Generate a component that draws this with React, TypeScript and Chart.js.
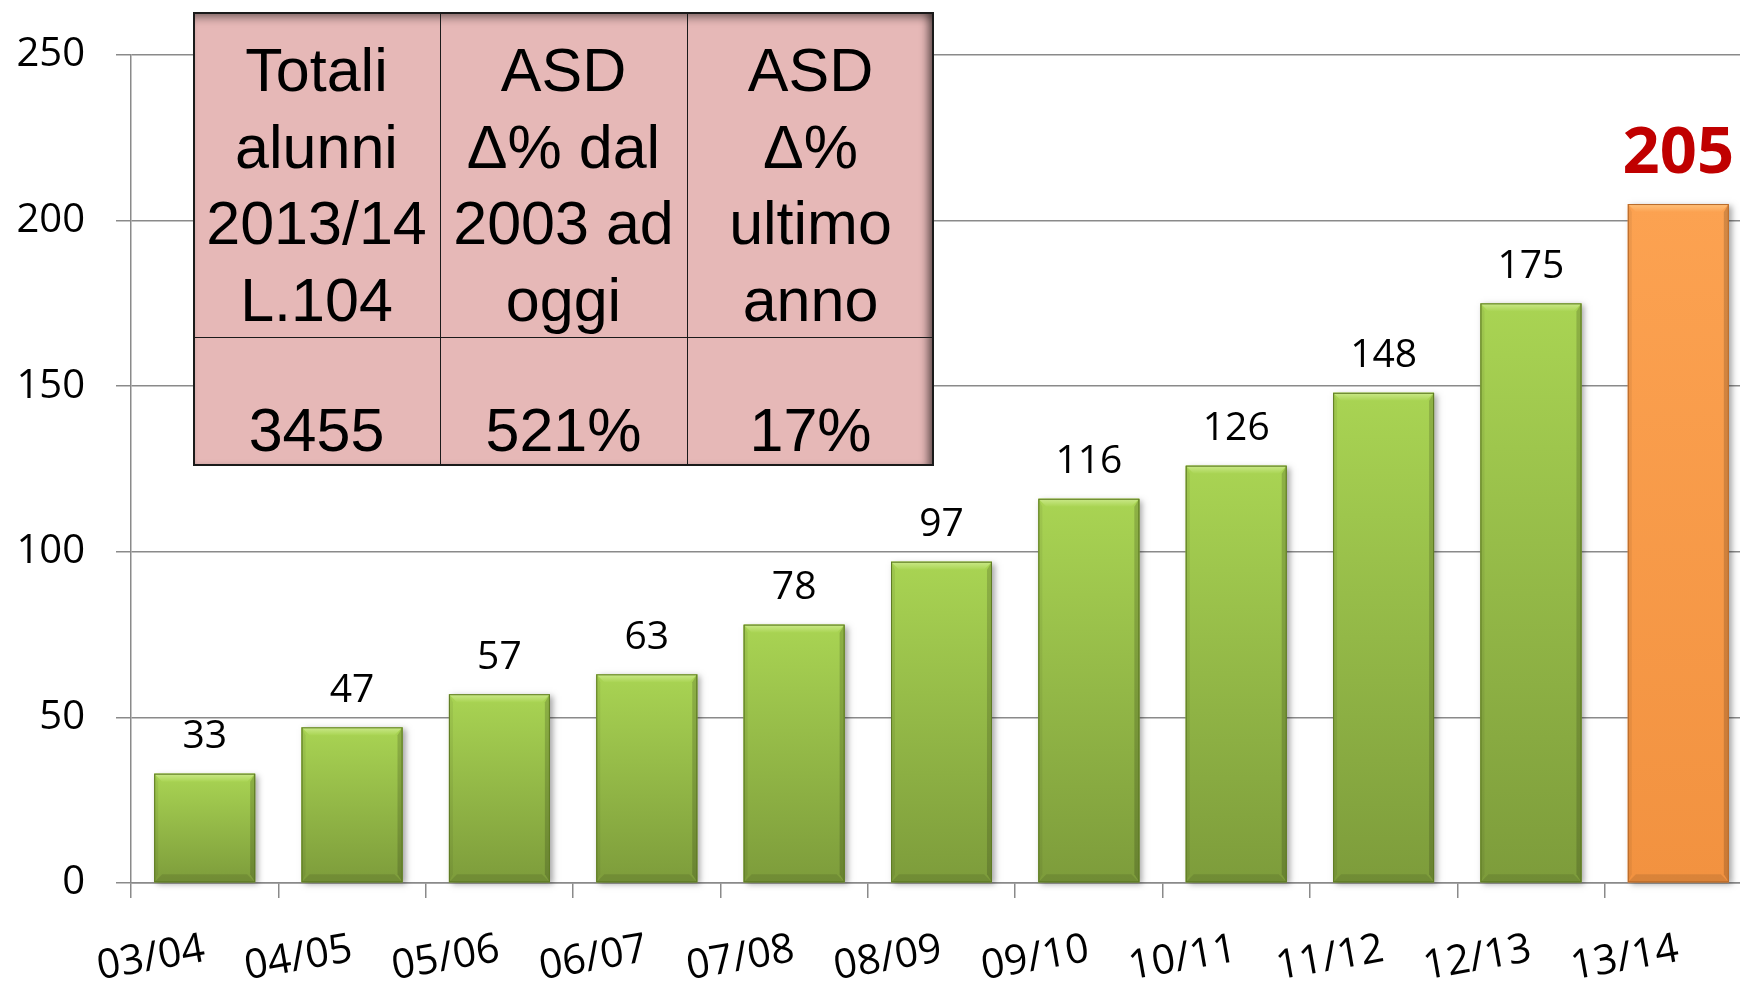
import React, { useEffect, useRef } from "react";
import { Chart, registerables } from "chart.js";

Chart.register(...registerables);

// ---- data ----
const categories = ["03/04", "04/05", "05/06", "06/07", "07/08", "08/09", "09/10", "10/11", "11/12", "12/13", "13/14"];
const alunniASD = [33, 47, 57, 63, 78, 97, 116, 126, 148, 175, 205];
const highlightIndex = 10;
const yTicks = [0, 50, 100, 150, 200, 250];
const tableHeaders = [
  ["Totali", "alunni", "2013/14", "L.104"],
  ["ASD", "Δ% dal", "2003 ad", "oggi"],
  ["ASD", "Δ%", "ultimo", "anno"],
];
const tableValues = ["3455", "521%", "17%"];

const GREEN = { top: "#a9d453", bottom: "#7d9c3b", bevelTop: "#cbe98a", border: "#5e7a24" };
const ORANGE = { top: "#fca251", bottom: "#f29240", bevelTop: "#ffc27c", border: "#b86a2a" };

const barStyle = {
  id: "barStyle",
  afterDatasetsDraw(chart: any) {
    const ctx = chart.ctx;
    const meta = chart.getDatasetMeta(0);
    meta.data.forEach((el: any, i: number) => {
      const { x, y, base, width } = el.getProps(["x", "y", "base", "width"], true);
      const l = x - width / 2;
      const r = x + width / 2;
      const t = y;
      const b = base;
      const pal = i === highlightIndex ? ORANGE : GREEN;
      // shadow
      ctx.save();
      ctx.shadowColor = "rgba(0,0,0,0.35)";
      ctx.shadowBlur = 6;
      ctx.shadowOffsetX = 3;
      ctx.shadowOffsetY = 2;
      ctx.fillStyle = pal.bottom;
      ctx.fillRect(l, t, r - l, b - t);
      ctx.restore();
      // face
      const g = ctx.createLinearGradient(0, t, 0, b);
      g.addColorStop(0, pal.top);
      g.addColorStop(1, pal.bottom);
      ctx.fillStyle = g;
      ctx.fillRect(l, t, r - l, b - t);
      const bv = 8;
      // top bevel
      const gt = ctx.createLinearGradient(0, t, 0, t + bv);
      gt.addColorStop(0, pal.bevelTop);
      gt.addColorStop(1, pal.top);
      ctx.fillStyle = gt;
      ctx.beginPath();
      ctx.moveTo(l, t);
      ctx.lineTo(r, t);
      ctx.lineTo(r - bv, t + bv);
      ctx.lineTo(l + bv, t + bv);
      ctx.closePath();
      ctx.fill();
      // left bevel
      ctx.fillStyle = "rgba(0,0,0,0.06)";
      ctx.beginPath();
      ctx.moveTo(l, t);
      ctx.lineTo(l + 4, t + bv);
      ctx.lineTo(l + 4, b - bv);
      ctx.lineTo(l, b);
      ctx.closePath();
      ctx.fill();
      // right bevel
      ctx.fillStyle = "rgba(0,0,0,0.16)";
      ctx.beginPath();
      ctx.moveTo(r, t);
      ctx.lineTo(r - 5, t + bv);
      ctx.lineTo(r - 5, b - bv);
      ctx.lineTo(r, b);
      ctx.closePath();
      ctx.fill();
      // bottom bevel
      ctx.fillStyle = "rgba(0,0,0,0.1)";
      ctx.beginPath();
      ctx.moveTo(l, b);
      ctx.lineTo(r, b);
      ctx.lineTo(r - bv, b - bv);
      ctx.lineTo(l + bv, b - bv);
      ctx.closePath();
      ctx.fill();
      // border
      ctx.strokeStyle = pal.border;
      ctx.lineWidth = 1;
      ctx.strokeRect(l + 0.5, t + 0.5, r - l - 1, b - t - 1);
    });
  },
};

const valueLabels = {
  id: "valueLabels",
  afterDatasetsDraw(chart: any) {
    const ctx = chart.ctx;
    const meta = chart.getDatasetMeta(0);
    const data = chart.data.datasets[0].data;
    ctx.save();
    ctx.textAlign = "center";
    ctx.textBaseline = "alphabetic";
    meta.data.forEach((el: any, i: number) => {
      const hi = i === highlightIndex;
      ctx.font = hi ? "bold 65px 'Open Sans'" : "39px 'Open Sans'";
      ctx.fillStyle = hi ? "#c00000" : "#000000";
      ctx.fillText(String(data[i]), el.x, el.y - (hi ? 31 : 25.5));
    });
    ctx.restore();
  },
};

function DataTable() {
  const left = 193;
  const top = 12;
  const w = 741;
  const h = 454;
  const headH = 325;
  const colW = w / 3;
  const font = "'Liberation Sans', Arial, sans-serif";
  return (
    <div
      style={{
        position: "absolute",
        left,
        top,
        width: w,
        height: h,
        boxSizing: "border-box",
        background: "#e6b8b7",
        border: "2px solid #1a1a1a",
        boxShadow: "inset -9px 0 8px -5px rgba(0,0,0,0.55), inset 0 9px 8px -5px rgba(0,0,0,0.4)",
        fontFamily: font,
        color: "#000",
      }}
    >
      {[1, 2].map((k) => (
        <div key={"v" + k} style={{ position: "absolute", left: k * colW - 2.5, top: -2, width: 1.5, height: h, background: "#1a1a1a" }} />
      ))}
      <div style={{ position: "absolute", left: -2, top: headH - 2.5, width: w, height: 1.5, background: "#1a1a1a" }} />
      {tableHeaders.map((lines, c) => (
        <div
          key={"h" + c}
          style={{
            position: "absolute",
            left: c * colW - 2,
            top: 18,
            width: colW,
            textAlign: "center",
            fontSize: 61,
            lineHeight: "76.7px",
            whiteSpace: "nowrap",
          }}
        >
          {lines.map((ln, j) => (
            <div key={j}>{ln}</div>
          ))}
        </div>
      ))}
      {tableValues.map((v, c) => (
        <div
          key={"val" + c}
          style={{
            position: "absolute",
            left: c * colW - 2,
            top: headH + 53,
            width: colW,
            textAlign: "center",
            fontSize: 61,
            lineHeight: "76.7px",
            whiteSpace: "nowrap",
          }}
        >
          {v}
        </div>
      ))}
    </div>
  );
}

export default function App() {
  const ref = useRef<HTMLCanvasElement | null>(null);
  useEffect(() => {
    if (!ref.current) return;
    const chart = new Chart(ref.current, {
      type: "bar",
      data: {
        labels: categories,
        datasets: [
          {
            data: alunniASD,
            backgroundColor: alunniASD.map((_, i) => (i === highlightIndex ? ORANGE.top : GREEN.top)),
            borderWidth: 0,
            barPercentage: 0.685,
            categoryPercentage: 1,
          },
        ],
      },
      options: {
        responsive: false,
        animation: false,
        layout: { padding: { top: 54, left: 0, right: 0, bottom: 0 } },
        plugins: { legend: { display: false }, tooltip: { enabled: false } },
        scales: {
          y: {
            min: 0,
            max: 250,
            afterBuildTicks: (s: any) => {
              s.ticks = yTicks.map((v) => ({ value: v }));
            },
            afterFit: (s: any) => {
              s.width = 131;
            },
            ticks: { font: { family: "'Open Sans'", size: 40 }, color: "#000", padding: 31 },
            grid: { color: "#8a8a8a", lineWidth: 1.5, tickLength: 15, drawTicks: true },
            border: { color: "#8a8a8a", width: 1.5 },
          },
          x: {
            afterFit: (s: any) => {
              s.height = 99;
            },
            ticks: {
              font: { family: "'Open Sans'", size: 41 },
              color: "#000",
              minRotation: 10,
              maxRotation: 10,
              autoSkip: false,
              padding: 27,
            },
            grid: { drawOnChartArea: false, color: "#8a8a8a", lineWidth: 1.5, tickLength: 15, offset: true },
            border: { color: "#8a8a8a", width: 1.5 },
          },
        },
      },
      plugins: [barStyle, valueLabels],
    });
    return () => chart.destroy();
  }, []);
  return (
    <div style={{ position: "fixed", left: 0, top: 0, width: 1740, height: 982, overflow: "hidden", background: "#fff" }}>
      <canvas ref={ref} width={1752} height={982} style={{ width: 1752, height: 982, display: "block" }} />
      <DataTable />
    </div>
  );
}
